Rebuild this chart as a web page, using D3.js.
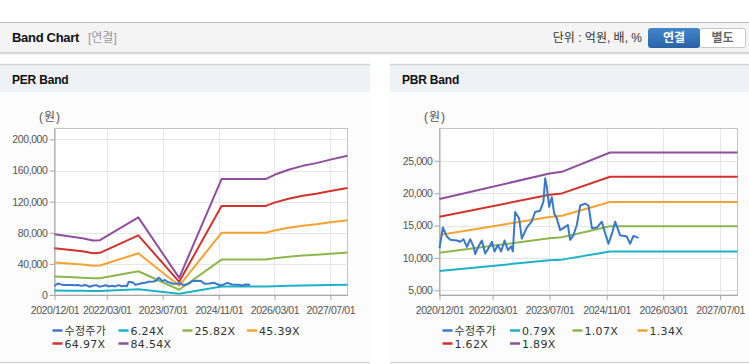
<!DOCTYPE html>
<html>
<head>
<meta charset="utf-8">
<script src="https://cdn.jsdelivr.net/npm/d3@7"></script>
<style>
body { margin: 0; background: #fff; }
text { font-family: "Liberation Sans", Arial, "Noto Sans CJK KR", sans-serif; }
</style>
</head>
<body>
<div id="chart"></div>
<script>
// x axis tick labels (same for both panels)
var tick_dates = ['2020/12/01', '2022/03/01', '2023/07/01', '2024/11/01', '2026/03/01', '2027/07/01'];
var end_date = '2027/11/27';

// adjusted close (수정주가)
var price_dates = ['2020/12/01','2020/12/30','2021/02/02','2021/03/03','2021/04/29','2021/05/27','2021/06/24',
  '2021/07/24','2021/08/21','2021/09/18','2021/10/03','2021/10/31','2021/11/29','2021/12/27','2022/01/25',
  '2022/02/23','2022/03/17','2022/04/15','2022/05/13','2022/06/11','2022/07/10','2022/08/07','2022/08/21',
  '2022/09/10','2022/10/14','2022/11/06','2022/12/19','2023/01/31','2023/02/28','2023/04/12','2023/05/10',
  '2023/05/25','2023/06/08','2023/06/28','2023/07/21','2023/08/10','2023/09/02','2023/09/30','2023/11/12',
  '2023/12/05','2023/12/25','2024/01/22','2024/02/20','2024/03/20','2024/05/01','2024/05/30','2024/06/28',
  '2024/08/10','2024/09/21','2024/10/20','2024/11/17','2024/12/21','2025/01/13','2025/02/25','2025/04/23',
  '2025/05/22','2025/06/19','2025/08/01'];
var price_values = [11500,14700,13300,12800,12700,12500,12900,
  11700,12900,11800,10600,11800,12700,10700,11500,
  12500,11000,12000,11000,12700,11200,11800,11000,
  17100,16100,13000,14700,15700,17100,17300,18700,
  22300,21000,17900,19400,16900,16100,14300,14800,
  15100,12800,13500,15100,18100,18400,18100,14600,
  14700,15600,13800,12200,14000,15600,13500,13300,
  12200,13400,13100];

// PER band
var per_dates = ['2020/12/01','2021/04/01','2021/08/01','2021/11/01','2022/01/01','2022/12/01','2023/11/22',
  '2024/11/25','2025/12/15','2026/03/01','2026/07/01','2026/11/01','2027/03/01','2027/07/01','2027/11/27'];
var per_6_24  = [5757,5573,5388,5167,5204,7366,1624,10998,10998,11404,11884,12253,12511,12843,13212];
var per_25_82 = [23823,23059,22296,21379,21532,30481,6719,45508,45508,47187,49173,50700,51769,53143,54670];
var per_45_39 = [41879,40537,39194,37584,37852,53584,11812,80000,80000,82953,86443,89127,91006,93422,96107];
var per_64_97 = [59944,58023,56101,53796,54180,76697,16907,114508,114508,118735,123730,127573,130263,133721,137563];
var per_84_54 = [78000,75500,73000,70000,70500,99800,22000,149000,149000,154500,161000,166000,169500,174000,179000];
var per_labels = ['수정주가', '6.24X', '25.82X', '45.39X', '64.97X', '84.54X'];
var per_ticks = [0, 40000, 80000, 120000, 160000, 200000];

// PBR band
var pbr_dates = ['2020/12/01','2023/07/01','2023/10/15','2024/12/01','2027/11/27'];
var pbr_0_79 = [7984,9635,9739,10993,10993];
var pbr_1_07 = [10813,13050,13191,14889,14889];
var pbr_1_34 = [13542,16342,16519,18646,18646];
var pbr_1_62 = [16371,19757,19971,22543,22543];
var pbr_1_89 = [19100,23050,23300,26300,26300];
var pbr_labels = ['수정주가', '0.79X', '1.07X', '1.34X', '1.62X', '1.89X'];
var pbr_ticks = [5000, 10000, 15000, 20000, 25000];

var line_colors = ['#3a78c9', '#1db3c6', '#8cb64e', '#f5a330', '#d2322c', '#8f4f9c'];

var parse = d3.timeParse('%Y/%m/%d');
var comma = d3.format(',');

var svg = d3.select('#chart').append('svg')
    .attr('width', 749)
    .attr('height', 364);

// top header bar
svg.append('rect').attr('x', 0).attr('y', 22).attr('width', 749).attr('height', 30).attr('fill', '#f4f4f4');
svg.append('line').attr('x1', 0).attr('x2', 749).attr('y1', 22.5).attr('y2', 22.5).style('stroke', '#bcbcbc');
svg.append('line').attr('x1', 0).attr('x2', 749).attr('y1', 52.5).attr('y2', 52.5).style('stroke', '#cdcdcd');
svg.append('line').attr('x1', 0).attr('x2', 749).attr('y1', 53.5).attr('y2', 53.5).style('stroke', '#e2e2e2');
svg.append('line').attr('x1', 0).attr('x2', 749).attr('y1', 54.5).attr('y2', 54.5).style('stroke', '#f1f1f1');
svg.append('text').attr('x', 12).attr('y', 42)
    .style('font-size', '13px').style('font-weight', 'bold').style('letter-spacing', '-0.3px')
    .style('fill', '#111').text('Band Chart');
svg.append('text').attr('x', 88).attr('y', 42)
    .style('font-size', '12px').style('fill', '#999').text('[연결]');
svg.append('text').attr('x', 642).attr('y', 42).attr('text-anchor', 'end')
    .style('font-size', '12px').style('fill', '#333').text('단위 : 억원, 배, %');

var grad = svg.append('defs').append('linearGradient').attr('id', 'btn').attr('x1', 0).attr('x2', 0).attr('y1', 0).attr('y2', 1);
grad.append('stop').attr('offset', '0%').attr('stop-color', '#4485ca');
grad.append('stop').attr('offset', '100%').attr('stop-color', '#2a62a6');
svg.append('rect').attr('x', 699.5).attr('y', 28.5).attr('width', 46).attr('height', 19).attr('rx', 2)
    .attr('fill', '#fff').style('stroke', '#c6c6c6');
svg.append('rect').attr('x', 648).attr('y', 28).attr('width', 52).attr('height', 20).attr('rx', 3)
    .attr('fill', 'url(#btn)');
svg.append('text').attr('x', 674).attr('y', 42).attr('text-anchor', 'middle')
    .style('font-size', '12px').style('font-weight', 'bold').style('fill', '#fff').text('연결');
svg.append('text').attr('x', 722.5).attr('y', 42).attr('text-anchor', 'middle')
    .style('font-size', '12px').style('font-weight', 'bold').style('fill', '#666').text('별도');

function makeSeries(dates, values) {
  return dates.map(function(d, i) { return {date: parse(d), value: values[i]}; });
}

function drawPanel(p) {
  // panel frame
  svg.append('rect').attr('x', p.left).attr('y', 92).attr('width', p.width).attr('height', 270).attr('fill', '#fcfcfc');
  svg.append('rect').attr('x', p.left).attr('y', 64).attr('width', p.width).attr('height', 28).attr('fill', '#eef2f7');
  svg.append('line').attr('x1', p.left).attr('x2', p.left + p.width).attr('y1', 64.5).attr('y2', 64.5)
      .style('stroke', '#d2d2d2').style('stroke-width', 1.5);
  svg.append('line').attr('x1', p.left).attr('x2', p.left + p.width).attr('y1', 362.5).attr('y2', 362.5)
      .style('stroke', '#d6d6d6').style('stroke-width', 1.5);
  svg.append('text').attr('x', p.left + 12).attr('y', 84)
      .style('font-size', '12px').style('font-weight', 'bold').style('letter-spacing', '-0.2px')
      .style('fill', '#111').text(p.title);

  var x = d3.scaleTime().domain([parse(tick_dates[0]), parse(end_date)]).range([p.x0, p.x1]);
  var y = d3.scaleLinear().domain(p.ydomain).range([295, 128.5]);

  var g = svg.append('g');
  g.append('rect').attr('x', p.x0).attr('y', 128.5).attr('width', p.x1 - p.x0).attr('height', 295 - 128.5)
      .attr('fill', '#fff');

  // grid
  g.selectAll('.vgrid').data(tick_dates.slice(1)).enter().append('line')
      .attr('x1', function(d) { return Math.round(x(parse(d))) + 0.5; })
      .attr('x2', function(d) { return Math.round(x(parse(d))) + 0.5; })
      .attr('y1', 128.5).attr('y2', 295)
      .style('stroke', '#e6e6e6');
  g.selectAll('.hgrid').data(p.ticks).enter().append('line')
      .attr('x1', p.x0).attr('x2', p.x1)
      .attr('y1', function(d) { return Math.round(y(d)) + 0.5; })
      .attr('y2', function(d) { return Math.round(y(d)) + 0.5; })
      .style('stroke', '#e6e6e6');
  g.append('rect').attr('x', p.x0).attr('y', 128.5).attr('width', p.x1 - p.x0).attr('height', 295 - 128.5)
      .attr('fill', 'none').style('stroke', '#c4c4c4');

  // axes
  var xAxis = d3.axisBottom(x).tickValues(tick_dates.map(parse)).tickFormat(d3.timeFormat('%Y/%m/%d'))
      .tickSize(5).tickSizeOuter(0);
  var gx = g.append('g').attr('transform', 'translate(0,295)').call(xAxis);
  var yAxis = d3.axisLeft(y).tickValues(p.ticks).tickFormat(comma).tickSize(5).tickSizeOuter(0);
  var gy = g.append('g').attr('transform', 'translate(' + p.x0 + ',0)').call(yAxis);
  [gx, gy].forEach(function(a) {
    a.select('.domain').style('stroke', '#a8a8a8');
    a.selectAll('.tick line').style('stroke', '#a8a8a8');
    a.selectAll('text').style('font-size', '10.5px').style('letter-spacing', '-0.4px')
        .style('fill', '#555').style('font-family', '"Liberation Sans", Arial, sans-serif');
  });
  gx.selectAll('text').attr('dy', '1.05em');
  gy.selectAll('text').attr('x', -7);

  g.append('text').attr('x', p.x0 - 4.5).attr('y', 121).attr('text-anchor', 'middle')
      .style('font-size', '12px').style('letter-spacing', '1px').style('fill', '#555').text('(원)');

  var line = d3.line()
      .x(function(d) { return x(d.date); })
      .y(function(d) { return y(d.value); });

  // bands first, price on top
  p.bands.forEach(function(vals, i) {
    g.append('path').datum(makeSeries(p.dates, vals))
        .attr('d', line).attr('fill', 'none')
        .style('stroke', line_colors[i + 1]).style('stroke-width', 2)
        .style('stroke-linejoin', 'round');
  });
  g.append('path').datum(makeSeries(price_dates, price_values))
      .attr('d', line).attr('fill', 'none')
      .style('stroke', line_colors[0]).style('stroke-width', 2)
      .style('stroke-linejoin', 'round');

  // legend, two rows
  p.labels.forEach(function(label, i) {
    var lx = p.legend_x[i % 4], ly = i < 4 ? 330.5 : 343.5;
    svg.append('line').attr('x1', lx).attr('x2', lx + 10).attr('y1', ly).attr('y2', ly)
        .style('stroke', line_colors[i]).style('stroke-width', 2.5);
    svg.append('text').attr('x', lx + 12).attr('y', ly + 4)
        .style('font-family', '"DejaVu Sans", "Noto Sans CJK KR", sans-serif')
        .style('font-size', '11px').style('letter-spacing', '0.3px').style('fill', '#333').text(label);
  });
}

drawPanel({
  title: 'PER Band', left: 0, width: 370, x0: 54.5, x1: 347.5,
  ydomain: [0, 214000], ticks: per_ticks,
  dates: per_dates, bands: [per_6_24, per_25_82, per_45_39, per_64_97, per_84_54],
  labels: per_labels, legend_x: [52.5, 118.5, 182.5, 247]
});
drawPanel({
  title: 'PBR Band', left: 390, width: 359, x0: 439.5, x1: 737.5,
  ydomain: [4275, 30000], ticks: pbr_ticks,
  dates: pbr_dates, bands: [pbr_0_79, pbr_1_07, pbr_1_34, pbr_1_62, pbr_1_89],
  labels: pbr_labels, legend_x: [442.5, 510, 572.5, 637.5]
});
</script>
</body>
</html>
